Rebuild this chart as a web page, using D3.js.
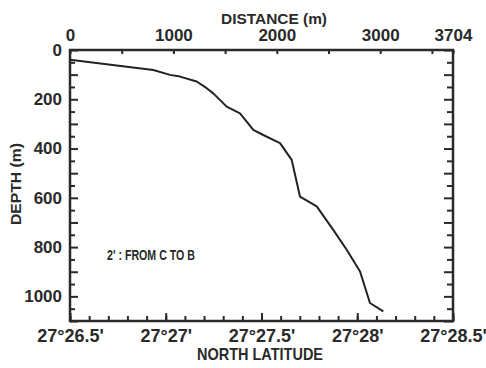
<!DOCTYPE html>
<html>
<head>
<meta charset="utf-8">
<script src="https://cdn.jsdelivr.net/npm/d3@7"></script>
<style>
    body { margin: 0; background: #fff; }
    text { font-family: 'Liberation Sans', Arial, sans-serif; font-weight: bold; fill: #2a2a2a; }
</style>
</head>
<body>
<div id="chart"></div>
<script>
'use strict';

// bottom profile along the section
var distance = [0, 806, 967, 1064, 1225, 1322, 1386, 1515, 1644, 1773, 1869, 2031, 2144, 2224, 2386, 2546, 2676, 2805, 2901, 3030];
var depth = [40, 81, 101, 108, 128, 155, 176, 230, 257, 324, 345, 378, 446, 595, 635, 730, 811, 899, 1027, 1061];

var distanceTicks = [0, 1000, 2000, 3000, 3704];
var depthTicks = [0, 200, 400, 600, 800, 1000];
var latTicks = [26.5, 27, 27.5, 28, 28.5];
var latLabels = ['27°26.5\'', '27°27\'', '27°27.5\'', '27°28\'', '27°28.5\''];

var width = 486,
    height = 368,
    margin = { top: 50, right: 33, bottom: 47, left: 70 };

var svg = d3.select('#chart').append('svg')
    .attr('width', width)
    .attr('height', height);

var x = d3.scaleLinear().domain([0, 3704]).range([margin.left, width - margin.right]);
var lat = d3.scaleLinear().domain([26.5, 28.5]).range([margin.left, width - margin.right]);
var y = d3.scaleLinear().domain([0, 1100]).range([margin.top, height - margin.bottom]);

function styleAxis(g, size) {
    g.select('.domain').remove();
    g.selectAll('line').attr('stroke', '#2a2a2a').attr('stroke-width', 2);
    g.attr('font-family', null).attr('font-size', size);
    g.selectAll('text').attr('fill', '#2a2a2a');
}

// top: distance
svg.append('g')
    .attr('transform', 'translate(0,' + margin.top + ')')
    .call(d3.axisTop(x)
        .tickValues(d3.range(0, 3704, 500).concat([3704]))
        .tickSizeInner(-4)
        .tickSizeOuter(0)
        .tickPadding(9)
        .tickFormat(function(d) { return distanceTicks.indexOf(d) >= 0 ? d : ''; }))
    .call(styleAxis, 17);

// left: depth
svg.append('g')
    .attr('transform', 'translate(' + margin.left + ',0)')
    .call(d3.axisLeft(y)
        .tickValues(d3.range(0, 1101, 100))
        .tickSizeInner(-8)
        .tickSizeOuter(0)
        .tickPadding(8)
        .tickFormat(function(d) { return depthTicks.indexOf(d) >= 0 ? d : ''; }))
    .call(styleAxis, 17);

svg.append('g')
    .attr('transform', 'translate(' + margin.left + ',0)')
    .call(d3.axisLeft(y).tickValues(d3.range(50, 1100, 100)).tickSizeInner(-5).tickSizeOuter(0).tickFormat(''))
    .call(styleAxis, 17);

// right: depth ticks only
svg.append('g')
    .attr('transform', 'translate(' + (width - margin.right) + ',0)')
    .call(d3.axisRight(y).tickValues(d3.range(0, 1101, 100)).tickSizeInner(-9).tickSizeOuter(0).tickFormat(''))
    .call(styleAxis, 17);

svg.append('g')
    .attr('transform', 'translate(' + (width - margin.right) + ',0)')
    .call(d3.axisRight(y).tickValues(d3.range(50, 1100, 100)).tickSizeInner(-6).tickSizeOuter(0).tickFormat(''))
    .call(styleAxis, 17);

// bottom: latitude
svg.append('g')
    .attr('transform', 'translate(0,' + (height - margin.bottom) + ')')
    .call(d3.axisBottom(lat)
        .tickValues(latTicks)
        .tickSizeInner(-8)
        .tickSizeOuter(0)
        .tickPadding(8)
        .tickFormat(function(d, i) { return latLabels[i]; }))
    .call(styleAxis, 18);

svg.append('g')
    .attr('transform', 'translate(0,' + (height - margin.bottom) + ')')
    .call(d3.axisBottom(lat)
        .tickValues(d3.range(265, 286).map(function(v) { return v / 10; }))
        .tickSizeInner(-5)
        .tickSizeOuter(0)
        .tickFormat(''))
    .call(styleAxis, 18);

// frame
svg.append('rect')
    .attr('x', margin.left)
    .attr('y', margin.top)
    .attr('width', width - margin.left - margin.right)
    .attr('height', height - margin.top - margin.bottom)
    .attr('fill', 'none')
    .attr('stroke', '#2a2a2a')
    .attr('stroke-width', 2.5);

// profile
var line = d3.line()
    .x(function(d, i) { return x(distance[i]); })
    .y(function(d) { return y(d); });

svg.append('path')
    .datum(depth)
    .attr('d', line)
    .attr('fill', 'none')
    .attr('stroke', '#222')
    .attr('stroke-width', 2)
    .attr('stroke-linejoin', 'round');

// titles
svg.append('text')
    .attr('x', 274)
    .attr('y', 24)
    .attr('text-anchor', 'middle')
    .attr('font-size', 15)
    .attr('textLength', 106)
    .attr('lengthAdjust', 'spacingAndGlyphs')
    .text('DISTANCE (m)');

svg.append('text')
    .attr('transform', 'translate(21,' + 184 + ') rotate(-90)')
    .attr('text-anchor', 'middle')
    .attr('font-size', 15)
    .attr('textLength', 82)
    .attr('lengthAdjust', 'spacingAndGlyphs')
    .text('DEPTH (m)');

svg.append('text')
    .attr('x', 260)
    .attr('y', 360)
    .attr('text-anchor', 'middle')
    .attr('font-size', 17)
    .attr('textLength', 126)
    .attr('lengthAdjust', 'spacingAndGlyphs')
    .text('NORTH LATITUDE');

svg.append('text')
    .attr('x', 107)
    .attr('y', 260)
    .attr('font-size', 14)
    .attr('textLength', 88)
    .attr('lengthAdjust', 'spacingAndGlyphs')
    .text('2\' : FROM C TO B');
</script>
</body>
</html>
